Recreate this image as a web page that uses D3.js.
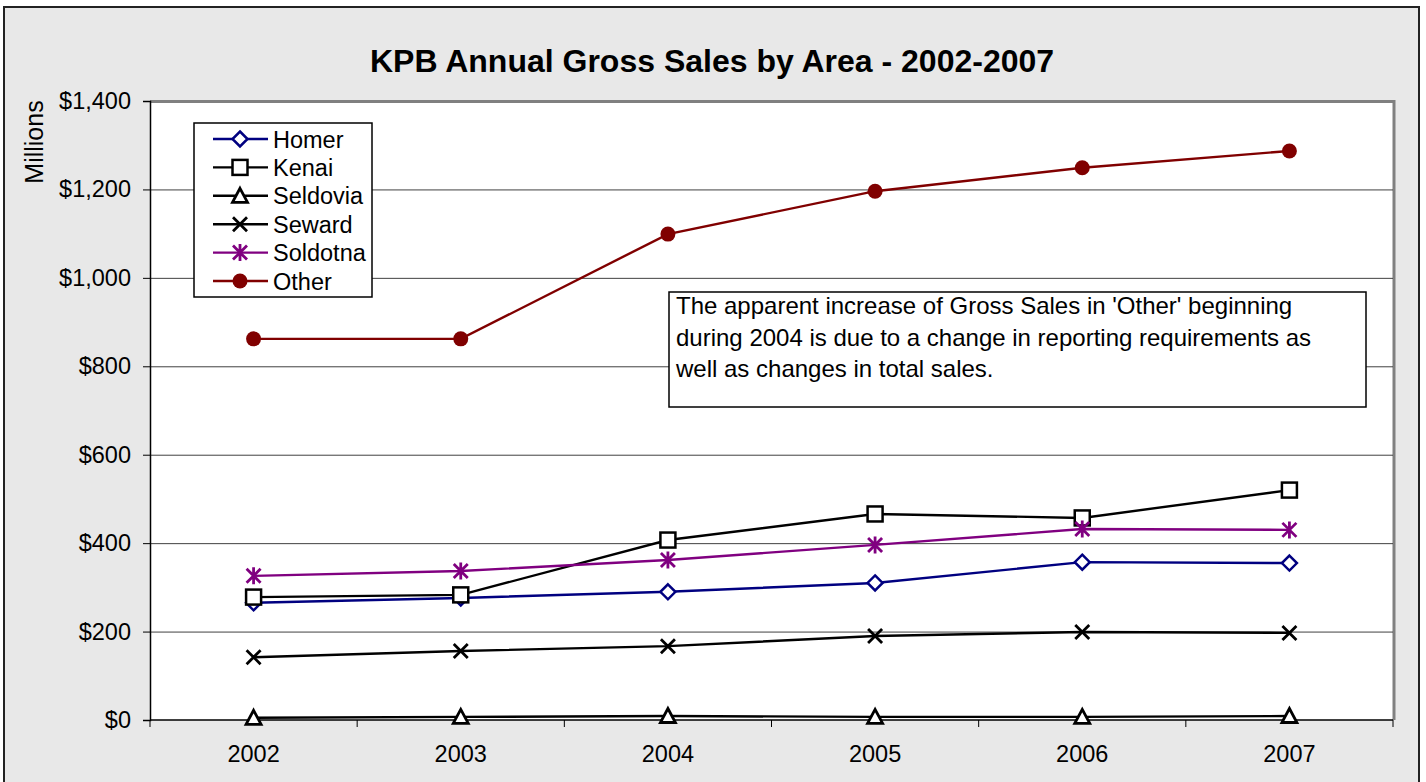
<!DOCTYPE html>
<html>
<head>
<meta charset="utf-8">
<script src="https://cdn.jsdelivr.net/npm/d3@7"></script>
<style>
  body { margin: 0; background: #fff; }
  text { font-family: "Liberation Sans", Arial, sans-serif; }
</style>
</head>
<body>
<div id="chart"></div>
<script>
const width = 1426
const height = 782
const margin = { top: 101, bottom: 62, left: 150, right: 33 }

// Datos
const years = ["2002", "2003", "2004", "2005", "2006", "2007"]
const homer = [265, 276, 290, 310, 357, 355]
const kenai = [278, 283, 407, 466, 457, 520]
const seldovia = [5, 7, 9, 7, 7, 9]
const seward = [142, 156, 167, 190, 199, 197]
const soldotna = [326, 337, 362, 396, 432, 430]
const other = [862, 862, 1099, 1196, 1249, 1287]
const yTicks = [0, 200, 400, 600, 800, 1000, 1200, 1400]
const noteLines = [
    "The apparent increase of Gross Sales in 'Other' beginning",
    "during 2004 is due to a change in reporting requirements as",
    "well as changes in total sales."
]

const series = [
    { name: "Homer", values: homer, color: "#000080", marker: "diamond" },
    { name: "Kenai", values: kenai, color: "#000000", marker: "square" },
    { name: "Seldovia", values: seldovia, color: "#000000", marker: "triangle" },
    { name: "Seward", values: seward, color: "#000000", marker: "x" },
    { name: "Soldotna", values: soldotna, color: "#800080", marker: "star" },
    { name: "Other", values: other, color: "#800000", marker: "circle" }
]

const svg = d3.select("#chart").append("svg")
    .attr("width", width)
    .attr("height", height)

// fondo del gráfico
svg.append("rect")
    .attr("x", 4).attr("y", 7)
    .attr("width", 1415).attr("height", 800)
    .attr("fill", "#e8e8e8")
    .attr("stroke", "#222").attr("stroke-width", 2)

const iw = width - margin.left - margin.right
const ih = height - margin.top - margin.bottom

const x = d3.scaleBand().domain(years).range([0, iw]).padding(0)
const y = d3.scaleLinear().domain([0, 1400]).range([ih, 0])

const g = svg.append("g").attr("transform", `translate(${margin.left}, ${margin.top})`)

// área de trazado
g.append("rect").attr("width", iw).attr("height", ih).attr("fill", "#fff")
g.append("path")
    .attr("d", `M0,0.5H${iw + 1}V${ih}`)
    .attr("fill", "none").attr("stroke", "#808080").attr("stroke-width", 3)

// líneas de cuadrícula
g.selectAll(".grid").data(yTicks.slice(1, -1)).join("line")
    .attr("x1", 0).attr("x2", iw)
    .attr("y1", d => y(d) + 0.5).attr("y2", d => y(d) + 0.5)
    .attr("stroke", "#404040").attr("stroke-width", 1)

// ejes
const yAxis = d3.axisLeft(y).tickValues(yTicks).tickSize(7).tickPadding(12)
    .tickFormat(d => "$" + d3.format(",")(d))
const yAxisG = g.append("g").call(yAxis)
yAxisG.select(".domain").attr("stroke", "#000").attr("stroke-width", 1.5)
yAxisG.selectAll("text").attr("font-size", 23.5).attr("fill", "#000")

const xAxisG = g.append("g").attr("transform", `translate(0, ${ih})`)
xAxisG.append("line").attr("x1", 0).attr("x2", iw).attr("stroke", "#000").attr("stroke-width", 1.5)
xAxisG.selectAll(".tk").data(d3.range(years.length + 1)).join("line")
    .attr("x1", i => i * x.bandwidth()).attr("x2", i => i * x.bandwidth())
    .attr("y1", 0).attr("y2", 7).attr("stroke", "#000")
xAxisG.selectAll(".lbl").data(years).join("text")
    .attr("x", d => x(d) + x.bandwidth() / 2).attr("y", 42)
    .attr("text-anchor", "middle").attr("font-size", 23.5).text(d => d)

// líneas
const line = d3.line()
    .x((d, i) => x(years[i]) + x.bandwidth() / 2)
    .y(d => y(d))

function marker(sel, type, color) {
    if (type === "diamond") {
        sel.append("path").attr("d", "M0,-7.5L7.5,0L0,7.5L-7.5,0Z")
            .attr("fill", "#fff").attr("stroke", color).attr("stroke-width", 2.5)
    } else if (type === "square") {
        sel.append("rect").attr("x", -7.5).attr("y", -7.5).attr("width", 15).attr("height", 15)
            .attr("fill", "#fff").attr("stroke", color).attr("stroke-width", 2.5)
    } else if (type === "triangle") {
        sel.append("path").attr("d", "M0,-7.5L7.5,6.5L-7.5,6.5Z")
            .attr("fill", "#fff").attr("stroke", color).attr("stroke-width", 2.8)
    } else if (type === "x") {
        sel.append("path").attr("d", "M-7,-7L7,7M-7,7L7,-7")
            .attr("stroke", color).attr("stroke-width", 2.8)
    } else if (type === "star") {
        sel.append("path").attr("d", "M-7,-7L7,7M-7,7L7,-7M0,-8.5V8.5")
            .attr("stroke", color).attr("stroke-width", 2.8)
    } else {
        sel.append("circle").attr("r", 7.5).attr("fill", color)
    }
}

series.forEach(s => {
    g.append("path")
        .attr("d", line(s.values))
        .attr("fill", "none").attr("stroke", s.color).attr("stroke-width", 2.4)
    s.values.forEach((v, i) => {
        const m = g.append("g")
            .attr("transform", `translate(${x(years[i]) + x.bandwidth() / 2}, ${y(v)})`)
        marker(m, s.marker, s.color)
    })
})

// leyenda
const legend = svg.append("g").attr("transform", "translate(194, 123)")
legend.append("rect").attr("width", 178).attr("height", 174)
    .attr("fill", "#fff").attr("stroke", "#000").attr("stroke-width", 1.5)
series.forEach((s, i) => {
    const row = legend.append("g").attr("transform", `translate(0, ${16 + i * 28.4})`)
    row.append("line").attr("x1", 19).attr("x2", 74)
        .attr("stroke", s.color).attr("stroke-width", 2.4)
    marker(row.append("g").attr("transform", "translate(46, 0)"), s.marker, s.color)
    row.append("text").attr("x", 79).attr("y", 8.5).attr("font-size", 23.5).text(s.name)
})

// nota
const note = svg.append("g").attr("transform", "translate(669, 292)")
note.append("rect").attr("width", 697).attr("height", 115)
    .attr("fill", "#fff").attr("stroke", "#000").attr("stroke-width", 1.5)
note.selectAll("text").data(noteLines).join("text")
    .attr("x", 7).attr("y", (d, i) => 22 + i * 31.5)
    .attr("font-size", 24).text(d => d)

// título
svg.append("text")
    .attr("x", 712).attr("y", 72)
    .attr("text-anchor", "middle")
    .attr("font-size", 32).attr("font-weight", "bold")
    .text("KPB Annual Gross Sales by Area - 2002-2007")

svg.append("text")
    .attr("transform", "translate(43, 142) rotate(-90)")
    .attr("text-anchor", "middle")
    .attr("font-size", 25)
    .text("Millions")
</script>
</body>
</html>
